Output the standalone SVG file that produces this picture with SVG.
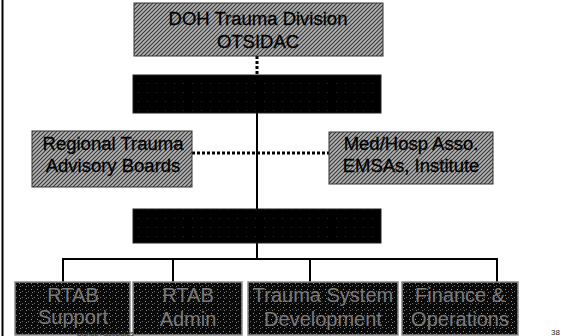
<svg xmlns="http://www.w3.org/2000/svg" width="563" height="336" viewBox="0 0 563 336">
<defs>
<pattern id="hatch" width="4" height="4" patternUnits="userSpaceOnUse">
<rect width="4" height="4" fill="#b4b4b4"/>
<path d="M-1,1 L1,-1 M0,4 L4,0 M3,5 L5,3" stroke="#3a3a3a" stroke-width="1.2"/>
</pattern>
<pattern id="speck" width="6" height="6" patternUnits="userSpaceOnUse">
<rect width="6" height="6" fill="#0a0a0a"/>
<rect x="1" y="1" width="1" height="1" fill="#9a9a9a"/>
<rect x="4" y="3" width="1" height="1" fill="#6a6a6a"/>
<rect x="2" y="4" width="1" height="1" fill="#808080"/>
</pattern>
<pattern id="noise" width="9" height="9" patternUnits="userSpaceOnUse">
<rect width="9" height="9" fill="#000"/>
<rect x="3" y="2" width="1" height="1" fill="#2a2a2a"/>
</pattern>
</defs>
<style>
.hb{fill:url(#hatch);stroke:#333;stroke-width:1}
.bb{fill:url(#noise);stroke:#222;stroke-width:1}
.sb{fill:url(#speck);stroke:#8a8a8a;stroke-width:1.5}
.t{font-family:"Liberation Sans",Arial,sans-serif;font-size:18.5px;fill:#000;text-anchor:middle;stroke:#000;stroke-width:0.3}
.tl{font-family:"Liberation Sans",Arial,sans-serif;font-size:20px;fill:#7a7a7a;text-anchor:middle}
.ln{stroke:#000;stroke-width:2;fill:none}
.dot{stroke:#000;stroke-width:3;fill:none;stroke-dasharray:3 2}
.ft{font-family:"Liberation Sans",Arial,sans-serif;fill:#222}
</style>
<line x1="2.5" y1="0" x2="2.5" y2="336" stroke="#000" stroke-width="2"/>
<g id="connectors">
<line class="dot" x1="257" y1="56" x2="257" y2="75"/>
<line class="ln" x1="257" y1="113" x2="257" y2="209"/>
<line class="dot" x1="192" y1="153" x2="329" y2="153"/>
<line class="ln" x1="257" y1="243" x2="257" y2="259"/>
<polyline class="ln" points="63,282 63,259 497,259 497,282"/>
<line class="ln" x1="173" y1="259" x2="173" y2="282"/>
<line class="ln" x1="310" y1="259" x2="310" y2="282"/>
</g>
<g id="doh">
<rect class="hb" x="134" y="3" width="249" height="53"/>
<text class="t" x="258" y="25">DOH Trauma Division</text>
<text class="t" x="258" y="48">OTSIDAC</text>
</g>
<g id="black1"><rect class="bb" x="133" y="75" width="248" height="38"/></g>
<g id="regional">
<rect class="hb" x="32" y="131" width="160" height="56"/>
<text class="t" x="113" y="150">Regional Trauma</text>
<text class="t" x="113" y="172">Advisory Boards</text>
</g>
<g id="medhosp">
<rect class="hb" x="329" y="132" width="164" height="52"/>
<text class="t" x="411" y="150">Med/Hosp Asso.</text>
<text class="t" x="411" y="172">EMSAs, Institute</text>
</g>
<g id="black2"><rect class="bb" x="133" y="209" width="248" height="34"/></g>
<g id="rtab-support">
<rect class="sb" x="15" y="282" width="115" height="53"/>
<text class="tl" x="73" y="302">RTAB</text>
<text class="tl" x="73" y="324">Support</text>
</g>
<g id="rtab-admin">
<rect class="sb" x="133" y="282" width="109" height="53"/>
<text class="tl" x="188" y="302">RTAB</text>
<text class="tl" x="188" y="326">Admin</text>
</g>
<g id="trauma-system">
<rect class="sb" x="248" y="282" width="150" height="53"/>
<text class="tl" x="323" y="302">Trauma System</text>
<text class="tl" x="323" y="326">Development</text>
</g>
<g id="finance">
<rect class="sb" x="402" y="282" width="116" height="53"/>
<text class="tl" x="460" y="302">Finance &amp;</text>
<text class="tl" x="460" y="326">Operations</text>
</g>
<text class="ft" x="77" y="336" font-size="7">Bishop Associates</text>
<text class="ft" x="551" y="335" font-size="8">38</text>
</svg>
